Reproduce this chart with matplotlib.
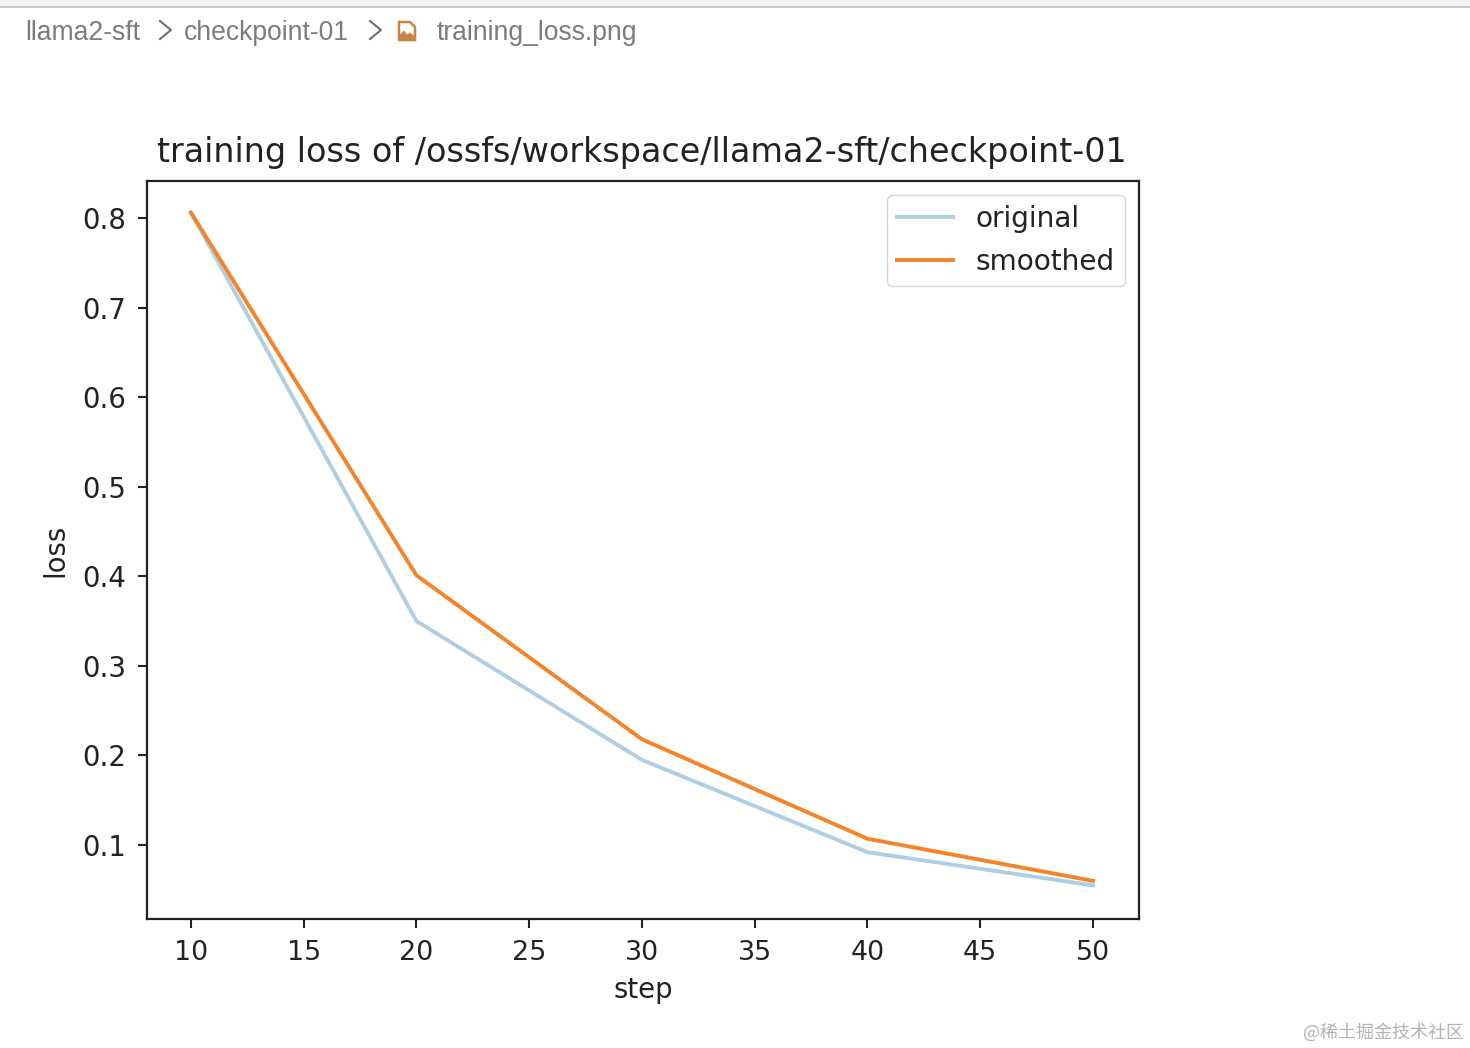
import matplotlib
matplotlib.use("Agg")
import matplotlib.pyplot as plt
from matplotlib.patches import Rectangle, Polygon

steps = [10, 20, 30, 40, 50]
original = [0.806, 0.350, 0.195, 0.092, 0.055]
smoothed = [0.806, 0.401, 0.218, 0.107, 0.060]
xticks = [10, 15, 20, 25, 30, 35, 40, 45, 50]
yticks = [0.1, 0.2, 0.3, 0.4, 0.5, 0.6, 0.7, 0.8]
crumbs = ["llama2-sft", "checkpoint-01", "training_loss.png"]
crumb_x = [25, 184, 437]

W, H = 1470, 1048
fig = plt.figure(figsize=(W / 100, H / 100), dpi=100)

# page chrome, drawn in pixel coords
bg = fig.add_axes([0, 0, 1, 1])
bg.set_xlim(0, W)
bg.set_ylim(H, 0)
bg.axis("off")
bg.add_patch(Rectangle((0, 0), W, 6, color="#f3f3f3", lw=0))
bg.add_patch(Rectangle((0, 6), W, 2, color="#c9c9c9", lw=0))
for c, cx in zip(crumbs, crumb_x):
    bg.text(cx, 30, c, fontsize=19.1, color="#7c7c7c", family="Liberation Sans", va="center_baseline")
for cx in [160, 370]:
    bg.plot([cx, cx + 11, cx], [21, 30, 39], color="#6e6e6e", lw=1.5)
# file icon
bg.add_patch(Polygon([(399, 22), (410, 22), (415, 27), (415, 40), (399, 40)], closed=True,
                     fc="white", ec="#c98245", lw=1.8))
bg.add_patch(Polygon([(399, 40), (399, 36), (404, 31), (407, 35), (410, 33), (415, 37), (415, 40)],
                     closed=True, fc="#c98245", ec="#c98245", lw=0.5))
bg.text(1464, 1032, "@稀土掘金技术社区", fontsize=13, color="#b4b4b4", ha="right", va="center",
        family=["Noto Sans CJK SC", "DejaVu Sans"])

ax = fig.add_axes([147 / W, 1 - 919 / H, (1139 - 147) / W, (919 - 181) / H])
ax.plot(steps, original, color="C0", alpha=0.36, lw=2.8, label="original")
ax.plot(steps, smoothed, color="#f5832a", lw=2.8, label="smoothed")
ax.set_xlim(8.05, 52.04)
ax.set_ylim(0.0174, 0.8413)
ax.set_xticks(xticks)
ax.set_yticks(yticks)
ax.tick_params(axis="x", labelsize=19.4, length=6.8, width=1.5, pad=8.6, colors="#222222")
ax.tick_params(axis="y", labelsize=19.8, length=6.8, width=1.5, pad=8.4, colors="#222222")
for s in ax.spines.values():
    s.set_linewidth(1.6)
    s.set_color("#222222")
ax.set_title("training loss of /ossfs/workspace/llama2-sft/checkpoint-01", fontsize=24, pad=14, color="#222222", x=0.4985)
ax.set_xlabel("step", fontsize=19.8, labelpad=7, color="#222222")
ax.set_ylabel("loss", fontsize=19.8, labelpad=9, color="#222222")
ax.legend(loc="upper right", fontsize=20.2, borderaxespad=0.5, labelcolor="#222222",
          borderpad=0.36, labelspacing=0.54, handlelength=2.0, handletextpad=0.8)

fig.savefig("out.png", dpi=100)
